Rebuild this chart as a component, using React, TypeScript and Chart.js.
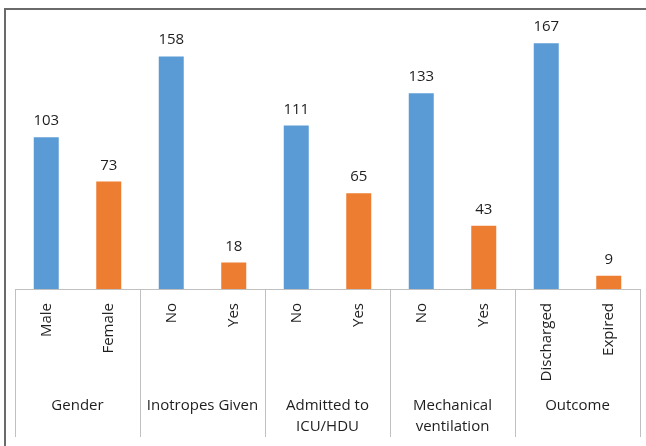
import React, { useEffect, useRef } from 'react';
import { Chart, registerables } from 'chart.js';

Chart.register(...registerables);

const groups: string[][] = [
  ['Gender'],
  ['Inotropes Given'],
  ['Admitted to', 'ICU/HDU'],
  ['Mechanical', 'ventilation'],
  ['Outcome'],
];
const categories = ['Male', 'Female', 'No', 'Yes', 'No', 'Yes', 'No', 'Yes', 'Discharged', 'Expired'];
const values = [103, 73, 158, 18, 111, 65, 133, 43, 167, 9];
const seriesColors = ['#5B9BD5', '#ED7D31'];
const yMax = 180;

const FONT = '"Open Sans", Lato, sans-serif';
const TEXT = '#1e1e1e';
const LINE = '#c0c0c0';

const framePlugin = {
  id: 'frame',
  beforeDraw(chart: any) {
    const ctx = chart.ctx;
    ctx.save();
    ctx.fillStyle = '#ffffff';
    ctx.fillRect(0, 0, chart.width, chart.height);
    ctx.fillStyle = '#6a6a6a';
    ctx.fillRect(4, 8, chart.width - 4, 2);
    ctx.fillRect(4, 8, 2, chart.height - 8);
    ctx.restore();
  },
};

const annotatePlugin = {
  id: 'annotate',
  afterDraw(chart: any) {
    const ctx = chart.ctx;
    const xs = chart.scales.x;
    const area = chart.chartArea;
    const meta = chart.getDatasetMeta(0);
    ctx.save();
    // value labels
    ctx.font = `15px ${FONT}`;
    ctx.fillStyle = TEXT;
    ctx.textAlign = 'center';
    ctx.textBaseline = 'alphabetic';
    meta.data.forEach((bar: any, i: number) => {
      ctx.fillText(String(values[i]), bar.x, bar.y - 12);
    });
    // separators
    const step = xs.getPixelForValue(1) - xs.getPixelForValue(0);
    ctx.strokeStyle = LINE;
    ctx.lineWidth = 1;
    for (let g = 0; g <= groups.length; g++) {
      const x = Math.round(xs.getPixelForValue(g * 2) - step / 2) + 0.5;
      ctx.beginPath();
      ctx.moveTo(x, area.bottom);
      ctx.lineTo(x, area.bottom + 148);
      ctx.stroke();
    }
    // group labels
    ctx.fillStyle = TEXT;
    ctx.textBaseline = 'alphabetic';
    groups.forEach((lines, g) => {
      const cx = (xs.getPixelForValue(g * 2) + xs.getPixelForValue(g * 2 + 1)) / 2;
      lines.forEach((t, k) => {
        ctx.fillText(t, cx, area.bottom + 121 + k * 21);
      });
    });
    ctx.restore();
  },
};

export default function App() {
  const ref = useRef<HTMLCanvasElement>(null);
  useEffect(() => {
    document.body.style.margin = '0';
    const chart = new Chart(ref.current as HTMLCanvasElement, {
      type: 'bar',
      data: {
        labels: categories,
        datasets: [
          {
            data: values,
            backgroundColor: categories.map((_, i) => seriesColors[i % 2]),
            categoryPercentage: 1,
            barPercentage: 0.4,
          },
        ],
      },
      options: {
        animation: false,
        responsive: false,
        maintainAspectRatio: false,
        layout: { padding: { left: 15, right: 6, top: 24, bottom: 0 } },
        plugins: { legend: { display: false }, tooltip: { enabled: false } },
        scales: {
          x: {
            grid: { display: false, drawTicks: false },
            border: { display: true, color: LINE, width: 1 },
            ticks: {
              minRotation: 90,
              maxRotation: 90,
              autoSkip: false,
              padding: 14,
              color: TEXT,
              font: { family: FONT, size: 15 },
            },
            afterFit(scale: any) {
              scale.height = 157;
            },
          },
          y: { display: false, min: 0, max: yMax },
        },
      },
      plugins: [framePlugin, annotatePlugin],
    });
    return () => chart.destroy();
  }, []);
  return (
    <div style={{ width: 646, height: 446 }}>
      <canvas ref={ref} width={646} height={446} style={{ display: 'block' }} />
    </div>
  );
}
